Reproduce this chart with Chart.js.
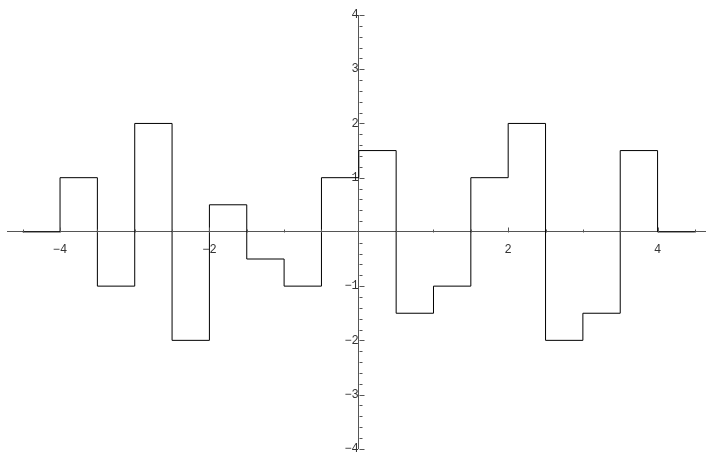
<!DOCTYPE html>
<html>
<head>
<meta charset="utf-8">
<script src="https://cdn.jsdelivr.net/npm/chart.js@4"></script>
<style>
  body { margin: 0; background: #fff; }
</style>
</head>
<body>
<canvas id="myChart" width="710" height="457"></canvas>
<script>
// step edges and the value that holds from each edge to the next one
let stepX = [-4.5, -4, -3.5, -3, -2.5, -2, -1.5, -1, -0.5, 0, 0.5, 1, 1.5, 2, 2.5, 3, 3.5, 4, 4.5];
let stepY = [0, 1, -1, 2, -2, 0.5, -0.5, -1, 1, 1.5, -1.5, -1, 1, 2, -2, -1.5, 1.5, 0, 0];

let xTickLabels = [-4, -2, 2, 4];
let yTickLabels = [-4, -3, -2, -1, 1, 2, 3, 4];

let points = [];
for (let i = 0; i < stepX.length; i++) {
    points.push({x: stepX[i], y: stepY[i]});
}

const minus = v => (v < 0 ? '\u2212' + Math.abs(v) : '' + v);

// mathematica style little ticks on the other side of the labels
const axisTicks = {
    id: 'axisTicks',
    afterDraw(chart) {
        const ctx = chart.ctx;
        const xs = chart.scales.x, ys = chart.scales.y;
        const x0 = Math.round(xs.getPixelForValue(0)) + 0.5;
        const y0 = Math.round(ys.getPixelForValue(0)) + 0.5;
        ctx.save();
        ctx.strokeStyle = '#555';
        ctx.lineWidth = 1;
        ctx.beginPath();
        for (let k = -9; k <= 9; k++) {
            if (k === 0) continue;
            const px = Math.round(xs.getPixelForValue(k / 2)) + 0.5;
            const len = (k % 4 === 0) ? 5 : 3;
            ctx.moveTo(px, y0);
            ctx.lineTo(px, y0 - len);
        }
        for (let k = -20; k <= 20; k++) {
            if (k === 0) continue;
            const py = Math.round(ys.getPixelForValue(k / 5)) + 0.5;
            const len = (k % 5 === 0) ? 5 : 3;
            ctx.moveTo(x0, py);
            ctx.lineTo(x0 + len, py);
        }
        ctx.stroke();
        ctx.restore();
    }
};

const data = {
    datasets: [{
        data: points,
        stepped: 'before',
        borderColor: '#000',
        borderWidth: 1,
        pointRadius: 0,
        fill: false
    }]
};

const config = {
    type: 'line',
    data: data,
    options: {
        responsive: false,
        animation: false,
        layout: {
            padding: {left: 7, right: 5, top: 15, bottom: 7}
        },
        plugins: {
            legend: {display: false},
            tooltip: {enabled: false}
        },
        scales: {
            x: {
                type: 'linear',
                min: -4.71,
                max: 4.635,
                position: {y: 0},
                grid: {display: false, tickLength: 8},
                border: {display: true, color: '#555', width: 1},
                afterBuildTicks: axis => {
                    axis.ticks = xTickLabels.map(v => ({value: v}));
                },
                ticks: {
                    autoSkip: false,
                    maxRotation: 0,
                    padding: 3,
                    color: '#333',
                    font: {family: 'Liberation Mono', size: 12},
                    callback: v => minus(v)
                }
            },
            y: {
                type: 'linear',
                min: -4,
                max: 4,
                position: {x: 0},
                grid: {display: false, tickLength: 5},
                border: {display: true, color: '#555', width: 1},
                afterBuildTicks: axis => {
                    axis.ticks = yTickLabels.map(v => ({value: v}));
                },
                ticks: {
                    autoSkip: false,
                    padding: 1,
                    color: '#333',
                    font: {family: 'Liberation Mono', size: 12},
                    callback: v => minus(v)
                }
            }
        }
    },
    plugins: [axisTicks]
};

let stepChart = document.getElementById('myChart');

var myChart = new Chart(stepChart, config);
</script>
</body>
</html>
